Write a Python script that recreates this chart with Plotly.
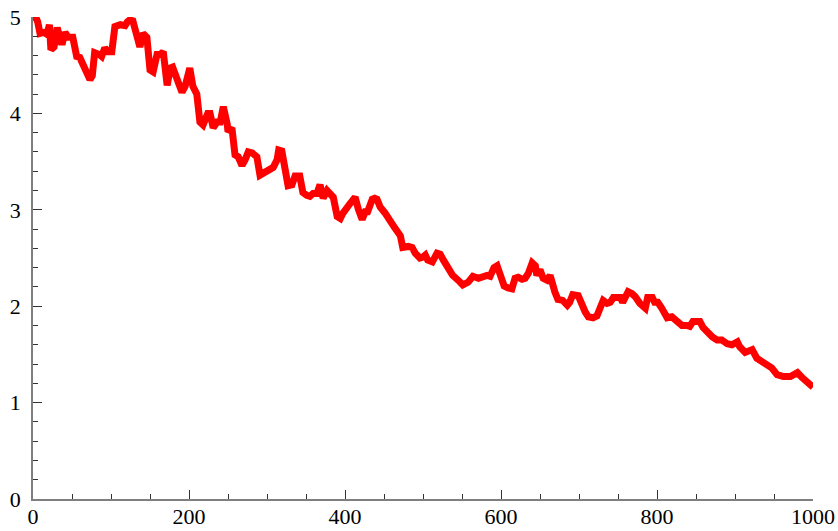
import plotly.graph_objects as go

steps = [0, 4, 6, 9, 14, 18, 21, 23, 27, 31, 36, 38, 41, 45, 51, 56, 60, 64, 71, 73,
         76, 79, 85, 88, 92, 96, 101, 105, 112, 118, 121, 124, 128, 133, 137, 141, 146, 150, 154, 159,
         163, 167, 172, 176, 179, 185, 191, 195, 199, 201, 205, 210, 214, 218, 224, 227, 231, 236, 240, 244,
         249, 250, 255, 259, 263, 268, 272, 276, 281, 287, 291, 297, 304, 308, 313, 315, 319, 323, 327, 332,
         336, 342, 346, 351, 355, 359, 364, 368, 372, 377, 381, 385, 390, 394, 397, 403, 406, 410, 413, 417,
         422, 426, 429, 435, 438, 441, 445, 451, 458, 464, 471, 474, 481, 486, 490, 496, 500, 503, 506, 512,
         518, 522, 526, 531, 535, 538, 545, 551, 558, 564, 571, 577, 582, 586, 591, 595, 599, 604, 609, 614,
         618, 622, 627, 631, 635, 640, 644, 646, 650, 654, 659, 663, 669, 673, 679, 685, 688, 692, 699, 704,
         708, 712, 718, 723, 727, 731, 736, 740, 744, 753, 756, 763, 768, 772, 778, 785, 788, 794, 797, 801,
         806, 813, 819, 826, 832, 838, 842, 846, 855, 859, 864, 871, 877, 883, 890, 896, 903, 906, 913, 922,
         928, 935, 941, 947, 954, 962, 971, 980, 986, 992, 1000]

values = [5.00, 4.99, 4.95, 4.83, 4.84, 4.82, 4.92, 4.66, 4.69, 4.89, 4.74, 4.74, 4.84, 4.79, 4.79, 4.59, 4.58, 4.52, 4.39, 4.35,
          4.39, 4.63, 4.61, 4.59, 4.68, 4.64, 4.64, 4.90, 4.92, 4.91, 4.95, 4.97, 4.96, 4.76, 4.69, 4.83, 4.79, 4.45, 4.43, 4.61,
          4.61, 4.64, 4.29, 4.47, 4.48, 4.35, 4.22, 4.28, 4.46, 4.47, 4.28, 4.20, 3.91, 3.88, 4.00, 4.00, 3.85, 3.91, 3.91, 4.07,
          3.89, 3.81, 3.85, 3.57, 3.55, 3.46, 3.52, 3.60, 3.59, 3.55, 3.36, 3.39, 3.41, 3.44, 3.52, 3.62, 3.61, 3.41, 3.25, 3.26,
          3.35, 3.35, 3.18, 3.15, 3.14, 3.17, 3.17, 3.26, 3.12, 3.20, 3.15, 3.13, 2.93, 2.91, 2.96, 3.05, 3.06, 3.10, 3.13, 3.01,
          2.90, 2.98, 2.98, 3.11, 3.12, 3.11, 3.03, 2.97, 2.87, 2.81, 2.73, 2.61, 2.62, 2.61, 2.55, 2.50, 2.51, 2.53, 2.48, 2.46,
          2.55, 2.54, 2.48, 2.41, 2.35, 2.32, 2.27, 2.22, 2.25, 2.31, 2.29, 2.31, 2.32, 2.31, 2.40, 2.42, 2.32, 2.21, 2.19, 2.18,
          2.29, 2.30, 2.28, 2.29, 2.34, 2.45, 2.42, 2.32, 2.38, 2.29, 2.27, 2.32, 2.15, 2.07, 2.06, 2.01, 2.04, 2.12, 2.11, 1.99,
          1.94, 1.89, 1.88, 1.90, 1.98, 2.06, 2.03, 2.04, 2.09, 2.09, 2.04, 2.15, 2.13, 2.10, 2.03, 1.98, 2.09, 2.09, 2.04, 2.04,
          1.98, 1.88, 1.89, 1.83, 1.80, 1.80, 1.79, 1.84, 1.84, 1.78, 1.73, 1.68, 1.65, 1.65, 1.61, 1.60, 1.63, 1.58, 1.52, 1.55,
          1.46, 1.42, 1.39, 1.36, 1.29, 1.27, 1.27, 1.31, 1.26, 1.21, 1.16]

x_ticks = [0, 200, 400, 600, 800, 1000]
y_ticks = [0, 1, 2, 3, 4, 5]

fig = go.Figure()
fig.add_trace(go.Scatter(x=steps, y=values, mode="lines", cliponaxis=False,
                         line=dict(color="#ff0000", width=7), hoverinfo="skip"))

font = dict(family="Liberation Serif, Times New Roman, serif", size=22, color="black")

fig.update_layout(
    width=838, height=531,
    margin=dict(l=33, r=25, t=17, b=32, autoexpand=False),
    paper_bgcolor="white", plot_bgcolor="white",
    showlegend=False,
    font=font,
)
fig.update_xaxes(
    range=[0, 1000], tickvals=x_ticks, ticktext=[str(v) for v in x_ticks],
    showgrid=False, zeroline=False, showline=True, linecolor="#7f7f7f", linewidth=1.5,
    ticks="inside", ticklen=9, tickwidth=1, tickcolor="#333333",
    minor=dict(ticks="inside", dtick=50, ticklen=5, tickwidth=1, tickcolor="#333333", showgrid=False),
    tickfont=font, ticklabelstandoff=-3, automargin=False, ticklabeloverflow="allow",
)
fig.update_yaxes(
    range=[0, 5], tickvals=y_ticks, ticktext=[str(v) for v in y_ticks],
    showgrid=False, zeroline=False, showline=True, linecolor="#7f7f7f", linewidth=1.5,
    ticks="inside", ticklen=9, tickwidth=1, tickcolor="#333333",
    minor=dict(ticks="inside", dtick=0.2, ticklen=5, tickwidth=1, tickcolor="#333333", showgrid=False),
    tickfont=font, ticklabelstandoff=6, automargin=False, ticklabeloverflow="allow",
)

# remove the default page margin so the 838x531 figure fills the window exactly
fig.write_html("out.html", config={"displayModeBar": False},
               post_script="document.body.style.margin='0';")
